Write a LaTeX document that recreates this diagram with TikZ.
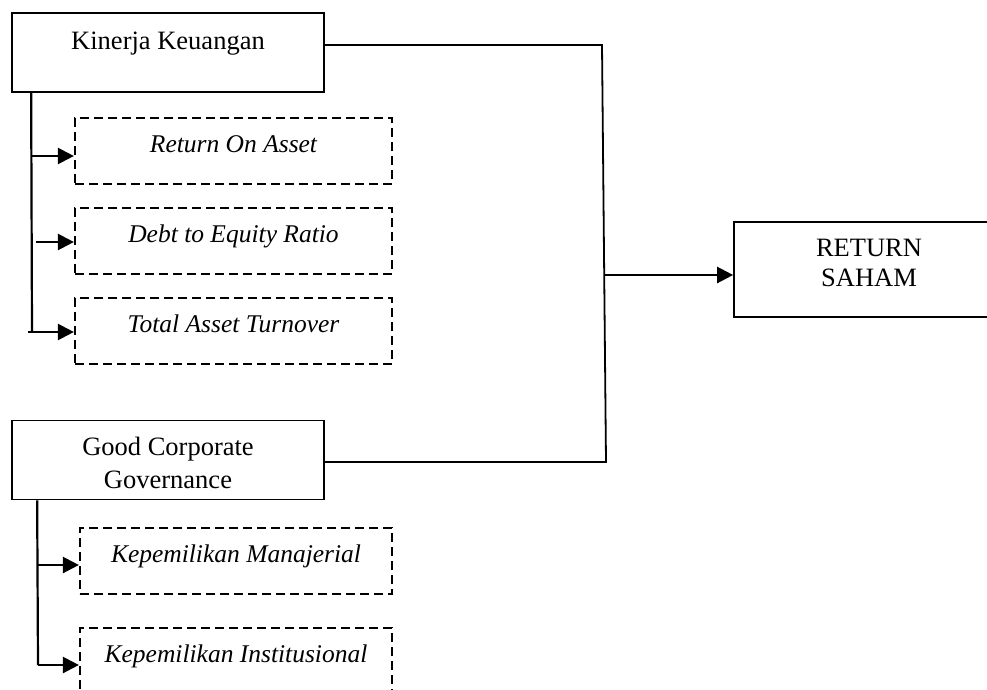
\documentclass[tikz,border=0pt]{standalone}
\usepackage{fontspec}
\setmainfont{Liberation Serif}
\usetikzlibrary{arrows.meta}
\begin{document}
\begin{tikzpicture}[x=1pt,y=-1pt,
  solidbox/.style={draw, line width=1.7pt, rectangle, inner sep=0pt, text height=17pt},
  dbox/.style={draw, line width=2.2pt, dash pattern=on 9pt off 5pt, rectangle, inner sep=0pt,
    minimum height=66pt, text height=17pt, text depth=14pt,
    font=\fontsize{25.5}{32}\selectfont\itshape},
  conn/.style={line width=1.8pt},
  trunk/.style={line width=2.2pt},
  arr/.style={line width=2.4pt, -{Triangle[length=16pt,width=16pt]}}]
\clip (0,0) rectangle (987,690);

% main boxes
\node[solidbox, minimum width=312pt, minimum height=79pt, text depth=22pt,
      font=\fontsize{26.5}{32}\selectfont] (kk) at (168,52.5) {Kinerja Keuangan};
\node[solidbox, minimum width=312pt, minimum height=79pt, text depth=27pt,
      font=\fontsize{26.5}{33}\selectfont] (gcg) at (168,460)
      {\begin{tabular}[t]{@{}c@{}}Good Corporate\\Governance\end{tabular}};
\node[solidbox, minimum width=270pt, minimum height=95pt, text depth=42.6pt,
      font=\fontsize{26.5}{30}\selectfont] (rs) at (869,269.5)
      {\begin{tabular}[t]{@{}c@{}}RETURN\\SAHAM\end{tabular}};

% dashed boxes
\node[dbox, minimum width=317pt] (roa) at (233.5,151) {Return On Asset};
\node[dbox, minimum width=317pt] (der) at (233.5,241) {Debt to Equity Ratio};
\node[dbox, minimum width=317pt] (tat) at (233.5,331) {Total Asset Turnover};
\node[dbox, minimum width=312pt] (km) at (236,561) {Kepemilikan Manajerial};
\node[dbox, minimum width=312pt] (ki) at (236,661) {Kepemilikan Institusional};

% right connector
\coordinate (j1) at (602,45);
\coordinate (j2) at (606,462);
\coordinate (j3) at (604,275);
\draw[conn] (kk.east |- j1) -- (j1) -- (j2) -- (gcg.east |- j2);
\draw[arr] (j3) -- (rs.west |- j3);

% Kinerja tree
\coordinate (t0) at ([xshift=20pt]kk.south west);
\coordinate (t1) at (32,332);
\draw[trunk] (t0) -- (t1);
\coordinate (a1) at (32,156);
\coordinate (a2) at (36,242);
\coordinate (a3) at (28,332);
\draw[arr] (a1) -- (roa.west |- a1);
\draw[arr] (a2) -- (der.west |- a2);
\draw[arr] (a3) -- (tat.west |- a3);

% GCG tree
\coordinate (g0) at ([xshift=26pt]gcg.south west);
\coordinate (g1) at (38,665);
\draw[trunk] (g0) -- (g1);
\coordinate (b1) at (38,565);
\draw[arr] (b1) -- (km.west |- b1);
\draw[arr] (g1) -- (ki.west |- g1);
\end{tikzpicture}
\end{document}
